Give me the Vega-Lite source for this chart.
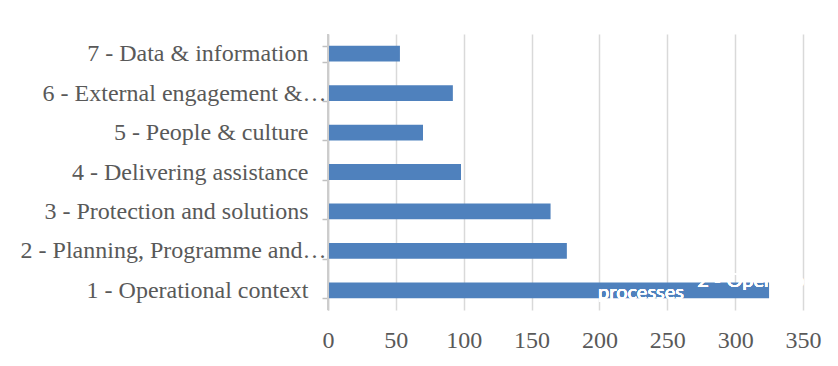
{
  "$schema": "https://vega.github.io/schema/vega-lite/v6.json",
  "width": 475,
  "height": 276,
  "autosize": {"type": "none"},
  "padding": {"left": 328, "top": 34, "right": 35, "bottom": 56},
  "background": "white",
  "config": {"view": {"stroke": null}, "font": "Liberation Serif"},
  "data": {
    "values": [
      {"area": "7 - Data & information", "count": 53},
      {"area": "6 - External engagement &…", "count": 92},
      {"area": "5 - People & culture", "count": 70},
      {"area": "4 - Delivering assistance", "count": 98},
      {"area": "3 - Protection and solutions", "count": 164},
      {"area": "2 - Planning, Programme and…", "count": 176},
      {"area": "1 - Operational context", "count": 325}
    ]
  },
  "layer": [
    {
      "mark": {"type": "bar", "color": "#4f81bd"},
      "encoding": {
        "y": {
          "field": "area",
          "type": "nominal",
          "sort": null,
          "scale": {
            "domain": [
              "7 - Data & information",
              "6 - External engagement &…",
              "5 - People & culture",
              "4 - Delivering assistance",
              "3 - Protection and solutions",
              "2 - Planning, Programme and…",
              "1 - Operational context"
            ],
            "paddingInner": 0.6,
            "paddingOuter": 0.3
          },
          "axis": {
            "title": null,
            "grid": false,
            "domain": true,
            "ticks": true,
            "domainColor": "#c8c8c8",
            "domainWidth": 1.5,
            "tickColor": "#c0c0c0",
            "tickWidth": 1.5,
            "tickSize": 6,
            "tickBand": "extent",
            "labelFont": "Liberation Serif",
            "labelFontSize": 24,
            "labelColor": "#595959",
            "labelLimit": 0,
            "labelPadding": -4,
            "labelExpr": "indexof(datum.label, '…') >= 0 ? datum.label : datum.label + '\u00a0\u00a0\u00a0\u2060'"
          }
        },
        "x": {
          "field": "count",
          "type": "quantitative",
          "scale": {"domain": [0, 350]},
          "axis": {
            "title": null,
            "values": [0, 50, 100, 150, 200, 250, 300, 350],
            "grid": true,
            "gridColor": "#d9d9d9",
            "gridWidth": 1.5,
            "domain": false,
            "ticks": false,
            "labelFlush": false,
            "labelPadding": 18,
            "labelFont": "Liberation Serif",
            "labelFontSize": 24,
            "labelColor": "#595959"
          }
        }
      }
    },
    {
      "mark": {"type": "rule", "color": "#cccccc", "strokeWidth": 1.5},
      "encoding": {
        "x": {"datum": 0, "type": "quantitative"}
      }
    },
    {
      "mark": {"type": "text", "color": "white", "font": "Lato", "fontSize": 20, "align": "left", "baseline": "alphabetic", "dy": -3},
      "encoding": {
        "x": {"datum": 272, "type": "quantitative"},
        "y": {"datum": "1 - Operational context", "type": "nominal"},
        "text": {"value": "2 - Operational"}
      }
    },
    {
      "mark": {"type": "text", "color": "white", "font": "Lato", "fontSize": 20, "align": "left", "baseline": "alphabetic", "dy": 9},
      "encoding": {
        "x": {"datum": 199, "type": "quantitative"},
        "y": {"datum": "1 - Operational context", "type": "nominal"},
        "text": {"value": "processes"}
      }
    }
  ]
}
